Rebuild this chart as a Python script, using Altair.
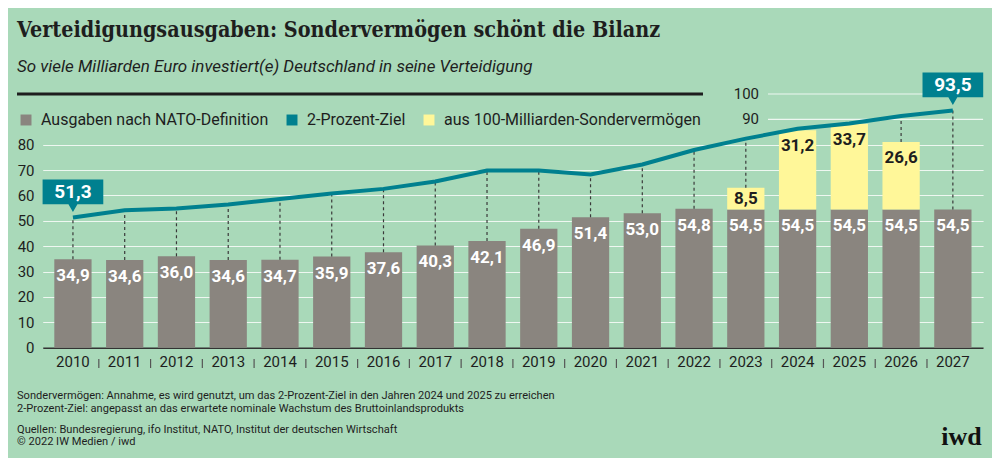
import altair as alt
import pandas as pd

# Werte aus der Grafik (Mrd. Euro)
years = [str(y) for y in range(2010, 2028)]
nato = [34.9, 34.6, 36.0, 34.6, 34.7, 35.9, 37.6, 40.3, 42.1, 46.9,
        51.4, 53.0, 54.8, 54.5, 54.5, 54.5, 54.5, 54.5]
sonder = [0, 0, 0, 0, 0, 0, 0, 0, 0, 0, 0, 0, 0, 8.5, 31.2, 33.7, 26.6, 0]
ziel = [51.3, 54.2, 54.9, 56.4, 58.6, 60.8, 62.6, 65.5, 69.8, 69.8,
        68.3, 72.2, 77.9, 82.4, 86.3, 88.4, 91.3, 93.5]
lower_ticks = [0, 10, 20, 30, 40, 50, 60, 70, 80]
upper_ticks = [90, 100]

S_NATO = "Ausgaben nach NATO-Definition"
S_ZIEL = "2-Prozent-Ziel"
S_SONDER = "aus 100-Milliarden-Sondervermögen"

title = "Verteidigungsausgaben: Sondervermögen schönt die Bilanz"
subtitle = "So viele Milliarden Euro investiert(e) Deutschland in seine Verteidigung"
notes = [
    "Sondervermögen: Annahme, es wird genutzt, um das 2-Prozent-Ziel in den Jahren 2024 und 2025 zu erreichen",
    "2-Prozent-Ziel: angepasst an das erwartete nominale Wachstum des Bruttoinlandsprodukts",
    "Quellen: Bundesregierung, ifo Institut, NATO, Institut der deutschen Wirtschaft",
    "© 2022 IW Medien / iwd",
]

BG = "#a9d9b9"
GRAY = "#8a857f"
TEAL = "#00808f"
YELLOW = "#fff799"
INK = "#1e1e1e"
GRID = "#eef7f1"
SANS = "Roboto"
SERIF = "DejaVu Serif Condensed"

W = 940.4
H = 253.7
STEP = W / (18 - 0.28 + 2 * 0.224)


def de(v):
    return f"{v:.1f}".replace(".", ",")


# Tabellen
bars = pd.DataFrame({"jahr": years, "wert": nato, "serie": S_NATO, "ord": 0})
extra = pd.DataFrame({"jahr": years, "wert": sonder, "serie": S_SONDER, "ord": 1})
extra = extra[extra["wert"] > 0]
stacked = pd.concat([bars, extra], ignore_index=True)

nato_lab = pd.DataFrame({"jahr": years, "wert": nato, "txt": [de(v) for v in nato]})

sonder_lab = pd.DataFrame({"jahr": years, "basis": nato, "plus": sonder})
sonder_lab = sonder_lab[sonder_lab["plus"] > 0].copy()
sonder_lab["y"] = [b + p / 2 if p / 2 < 6.3 else b + p - 6.3
                   for b, p in zip(sonder_lab["basis"], sonder_lab["plus"])]
sonder_lab["txt"] = [de(v) for v in sonder_lab["plus"]]

line = pd.DataFrame({"jahr": years, "wert": ziel})

dash = pd.DataFrame({"jahr": years, "lo": [a + b for a, b in zip(nato, sonder)], "hi": ziel})
dash = dash[dash["hi"] - dash["lo"] > 1.5]

callout = line.iloc[[0, -1]].copy()
callout["txt"] = [de(v) for v in callout["wert"]]

x_scale = alt.Scale(domain=years, paddingInner=0.28, paddingOuter=0.224)
y_scale = alt.Scale(domain=[0, 100], nice=False)

x_axis = alt.Axis(title=None, labelAngle=0, ticks=False, labelPadding=7,
                  labelFontSize=15, labelFont=SANS, labelColor=INK,
                  domainColor="#333333", domainWidth=1.5, grid=False)
y_axis = alt.Axis(title=None, values=lower_ticks, ticks=False, domain=False,
                  labelPadding=8.7, labelFontSize=15, labelFont=SANS,
                  labelColor=INK, gridColor=GRID, gridWidth=1.2,
                  labelOverlap=False)


def xj():
    return alt.X("jahr:N", scale=x_scale, axis=x_axis)


def yq(field):
    return alt.Y(field, scale=y_scale, axis=y_axis)


base_bars = alt.Chart(stacked).mark_bar().encode(
    x=xj(),
    y=alt.Y("wert:Q", stack="zero", scale=y_scale, axis=y_axis),
    color=alt.Color("serie:N",
                    scale=alt.Scale(domain=[S_NATO, S_ZIEL, S_SONDER],
                                    range=[GRAY, TEAL, YELLOW]),
                    legend=alt.Legend(title=None, orient="none", legendX=-24.7,
                                      legendY=18, direction="horizontal",
                                      symbolType="square", symbolSize=120,
                                      symbolStrokeWidth=0, labelFontSize=16,
                                      labelFont=SANS, labelColor=INK,
                                      labelLimit=0, columnPadding=15,
                                      labelOffset=7)),
    order=alt.Order("ord:Q"),
)

upper_grid = alt.Chart(pd.DataFrame({"v": upper_ticks})).mark_rule(
    color=GRID, strokeWidth=1.2
).encode(y=yq("v:Q"), x=alt.value(725.3), x2=alt.value(W))

upper_labels = alt.Chart(pd.DataFrame({"v": upper_ticks})).mark_text(
    align="right", baseline="middle", fontSize=15, font=SANS, color=INK
).encode(y=yq("v:Q"), x=alt.value(716.3), text="v:Q")

dashes = alt.Chart(dash).mark_rule(
    color="#3a3a3a", strokeWidth=1.2, strokeDash=[3, 3]
).encode(x=xj(), y=yq("lo:Q"), y2="hi:Q")

ziel_line = alt.Chart(line).mark_line(color=TEAL, strokeWidth=4).encode(
    x=xj(), y=yq("wert:Q")
)

nato_text = alt.Chart(nato_lab).mark_text(
    baseline="middle", dy=17, fontSize=17, fontWeight="bold", font=SANS, color="white"
).encode(x=xj(), y=yq("wert:Q"), text="txt:N")

sonder_text = alt.Chart(sonder_lab).mark_text(
    baseline="middle", fontSize=17, fontWeight="bold", font=SANS, color=INK
).encode(x=xj(), y=yq("y:Q"), text="txt:N")

bubble = ("M-1,-1.252 L1,-1.252 L1,-0.435 L0.148,-0.435 L0,-0.181 "
          "L-0.148,-0.435 L-1,-0.435 Z")
bubbles = alt.Chart(callout).mark_point(
    shape=bubble, size=3684, filled=True, opacity=1, color=TEAL, strokeWidth=0
).encode(x=xj(), y=yq("wert:Q"))

bubble_text = alt.Chart(callout).mark_text(
    baseline="middle", dy=-25.6, fontSize=19, fontWeight="bold", font=SANS, color="white"
).encode(x=xj(), y=yq("wert:Q"), text="txt:N")

seps = alt.Chart(pd.DataFrame({"jahr": years[1:]})).mark_rule(
    color="#555555", strokeWidth=1.2, xOffset=-STEP / 2
).encode(x=xj(), y=alt.value(265), y2=alt.value(274))

title_txt = alt.Chart(pd.DataFrame({"t": [title]})).mark_text(
    align="left", baseline="alphabetic", fontSize=21.4, fontWeight="bold",
    font=SERIF, color=INK
).encode(text="t:N", x=alt.value(-25.7), y=alt.value(-56.7))

sub_txt = alt.Chart(pd.DataFrame({"t": [subtitle]})).mark_text(
    align="left", baseline="alphabetic", fontSize=17, fontStyle="italic",
    font=SANS, color=INK
).encode(text="t:N", x=alt.value(-25.7), y=alt.value(-22.3))

black_rule = alt.Chart(pd.DataFrame({"a": [0]})).mark_rule(
    color=INK, strokeWidth=3
).encode(x=alt.value(-25.7), x2=alt.value(660.3), y=alt.value(0))

note_layers = []
for txt, yy in zip(notes, [304.7, 318, 339, 351.3]):
    note_layers.append(
        alt.Chart(pd.DataFrame({"t": [txt]})).mark_text(
            align="left", baseline="alphabetic", fontSize=11.1, font=SANS, color=INK
        ).encode(text="t:N", x=alt.value(-25.7), y=alt.value(yy))
    )

logo = alt.Chart(pd.DataFrame({"t": ["iwd"]})).mark_text(
    align="right", baseline="alphabetic", fontSize=26, fontWeight="bold",
    font="Liberation Serif", color="#111111"
).encode(text="t:N", x=alt.value(939), y=alt.value(351))

chart = alt.layer(
    base_bars, upper_grid, upper_labels, dashes, ziel_line, nato_text,
    sonder_text, bubbles, bubble_text, seps, title_txt, sub_txt, black_rule,
    *note_layers, logo
).properties(
    width=W,
    height=H,
    autosize=alt.AutoSizeParams(type="none"),
    padding={"left": 34.7, "top": 86, "right": 8.9, "bottom": 110},
    background=BG,
).configure_view(stroke=None)

chart.save("out.html", embed_options={"renderer": "svg", "actions": False})
